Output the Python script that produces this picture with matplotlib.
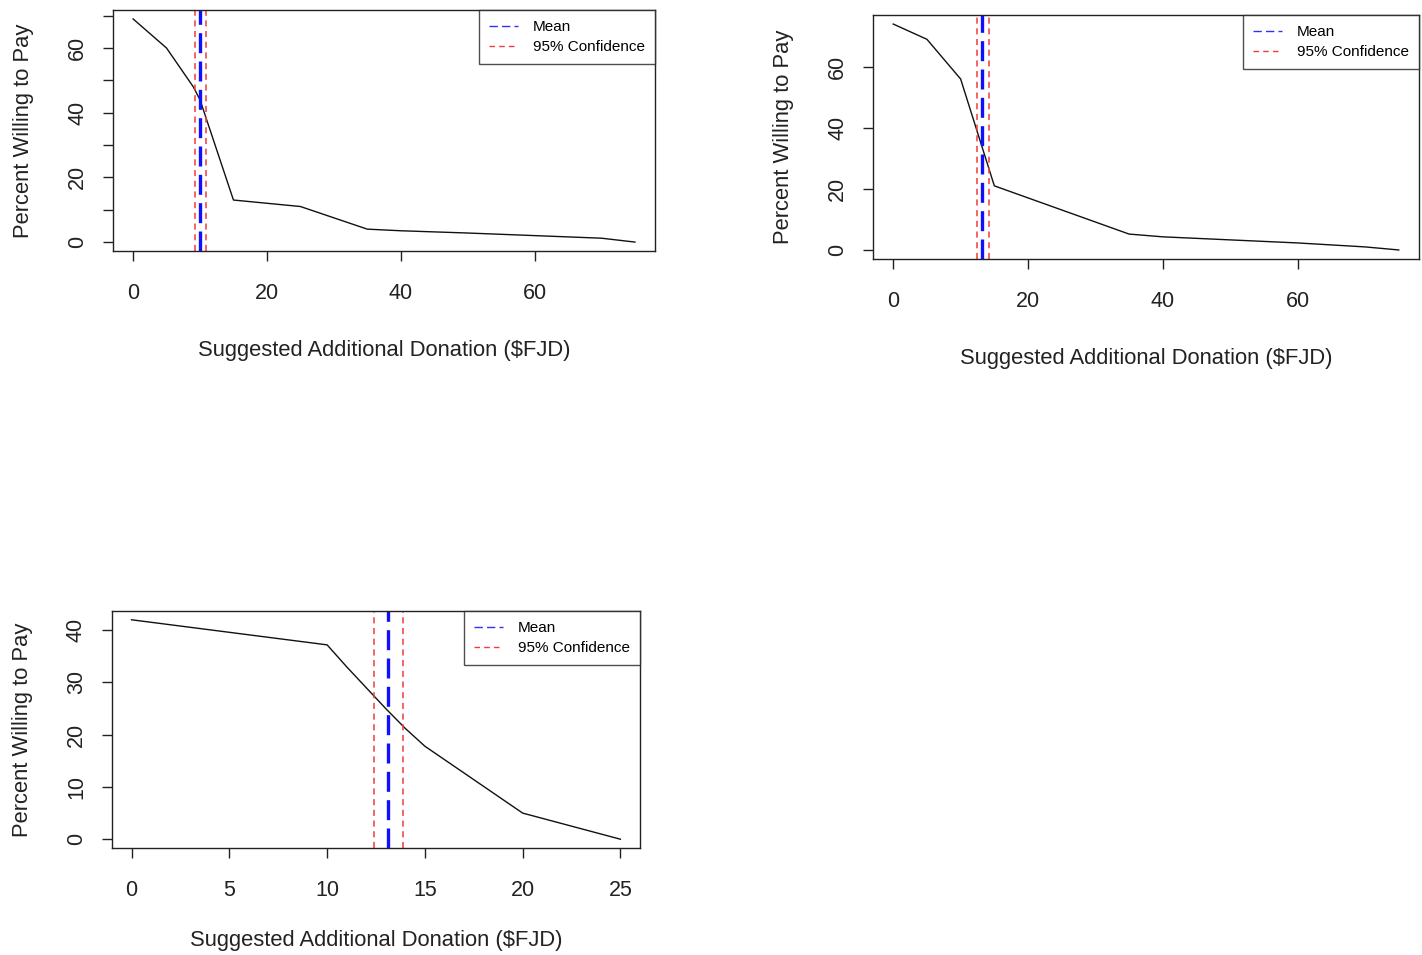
import matplotlib
matplotlib.use("Agg")
import matplotlib.pyplot as plt
from matplotlib.lines import Line2D

plt.rcParams['font.family'] = ['Liberation Sans', 'DejaVu Sans']

# panel 1 - curva de disposicao a pagar
x1 = [0, 5, 7, 9, 10, 15, 20, 25, 35, 40, 50, 60, 70, 75]
y1 = [69, 60, 54, 48, 44, 13, 12, 11, 4, 3.5, 2.8, 2, 1.2, 0]
mean1, ci1 = 10.0, (9.2, 10.9)

# panel 2
x2 = [0, 5, 10, 15, 35, 40, 50, 60, 70, 75]
y2 = [74, 69, 56, 21, 5.2, 4.3, 3.3, 2.3, 1.0, 0]
mean2, ci2 = 13.2, (12.4, 14.2)

# panel 3
x3 = [0, 5, 10, 11, 12, 13, 14, 15, 20, 25]
y3 = [42, 39.6, 37.2, 33, 29, 25, 21.2, 17.8, 5, 0]
mean3, ci3 = 13.1, (12.4, 13.9)

xlabel = "Suggested Additional Donation ($FJD)"
ylabel = "Percent Willing to Pay"

W, H = 1422, 955
fig = plt.figure(figsize=(W / 100, H / 100), dpi=100)


def px_axes(left, top, right, bottom):
    return fig.add_axes([left / W, 1 - bottom / H, (right - left) / W, (bottom - top) / H])


def draw_panel(ax, x, y, mean, ci, xticks, yticks, ylabels, xpad=26):
    ax.plot(x, y, color="#111111", lw=1.0)
    for c in ci:
        ax.axvline(c, color="#f03c3c", lw=1.1, linestyle=(0, (4, 3)))
    ax.axvline(mean, color="#1010ff", lw=2.4, linestyle=(0, (6, 2.5)))

    xmax, ymax = max(x), max(y)
    ax.set_xlim(-0.04 * xmax, 1.04 * xmax)
    ax.set_ylim(-0.04 * ymax, 1.04 * ymax)
    ax.set_xticks(xticks)
    ax.set_yticks(yticks)
    ax.set_yticklabels(ylabels, rotation=90, va="center")
    ax.tick_params(axis="both", direction="out", length=7, width=1, labelsize=15.5, colors="#222222")
    ax.tick_params(axis="x", pad=16)
    ax.tick_params(axis="y", pad=11)
    for s in ax.spines.values():
        s.set_linewidth(1.0)
        s.set_color("#222222")
    ax.set_xlabel(xlabel, fontsize=15.8, labelpad=xpad, color="#222222")
    ax.set_ylabel(ylabel, fontsize=15.8, labelpad=24, color="#222222")

    handles = [
        Line2D([], [], color="#3030ff", lw=1.0, linestyle=(0, (6, 3))),
        Line2D([], [], color="#f03c3c", lw=1.0, linestyle=(0, (4, 3))),
    ]
    leg = ax.legend(handles, ["Mean", "95% Confidence"], loc="upper right",
                    fontsize=11, frameon=True, fancybox=False, borderaxespad=0,
                    handlelength=1.9, borderpad=0.65, labelspacing=0.4, handletextpad=1.0)
    leg.get_frame().set_edgecolor("#222222")
    leg.get_frame().set_linewidth(1.0)


ax1 = px_axes(113, 10, 655, 251)
yt1 = list(range(0, 71, 10))
draw_panel(ax1, x1, y1, mean1, ci1, [0, 20, 40, 60], yt1,
           [str(v) if v % 20 == 0 else "" for v in yt1])

ax2 = px_axes(873, 15, 1419, 259)
draw_panel(ax2, x2, y2, mean2, ci2, [0, 20, 40, 60], [0, 20, 40, 60], ["0", "20", "40", "60"])

ax3 = px_axes(112, 611, 640, 848)
draw_panel(ax3, x3, y3, mean3, ci3, [0, 5, 10, 15, 20, 25], [0, 10, 20, 30, 40],
           ["0", "10", "20", "30", "40"], xpad=21)

fig.savefig("out.png", dpi=100)
